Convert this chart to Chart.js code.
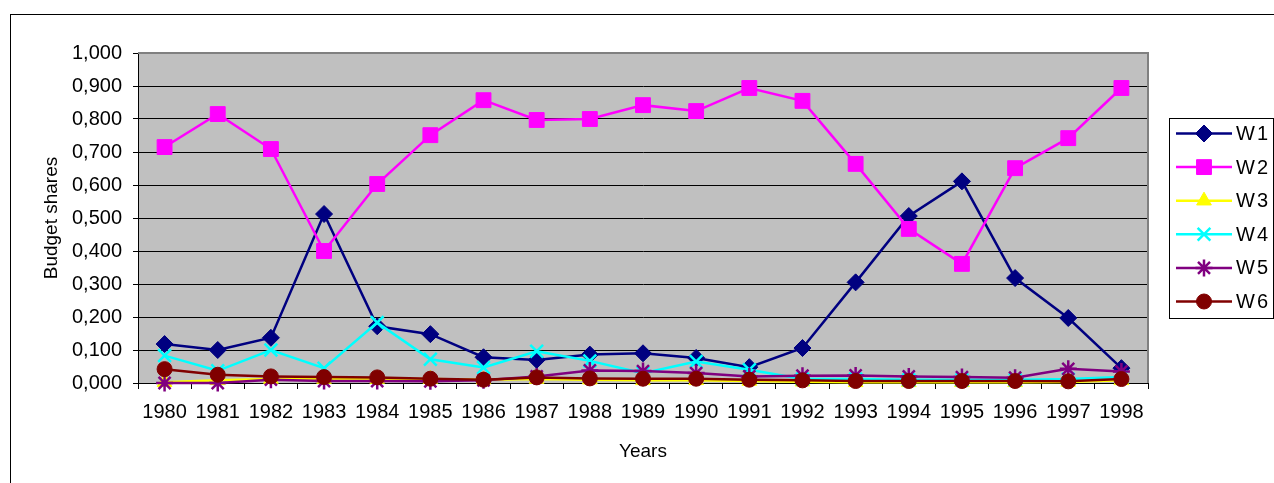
<!DOCTYPE html>
<html>
<head>
<meta charset="utf-8">
<script src="https://cdn.jsdelivr.net/npm/chart.js@4.4.0/dist/chart.umd.min.js"></script>
<style>
  html, body { margin: 0; padding: 0; background: #fff; }
  #wrap { width: 1274px; height: 483px; position: relative; }
</style>
</head>
<body>
<div id="wrap"><canvas id="sharesChart"></canvas></div>
<script>
const years = ['1980', '1981', '1982', '1983', '1984', '1985', '1986', '1987', '1988', '1989',
  '1990', '1991', '1992', '1993', '1994', '1995', '1996', '1997', '1998'];

const w1 = [0.118, 0.100, 0.137, 0.512, 0.172, 0.148, 0.078, 0.070, 0.086, 0.090,
  0.076, 0.048, 0.106, 0.305, 0.506, 0.611, 0.318, 0.197, 0.045];
const w2 = [0.715, 0.815, 0.709, 0.400, 0.603, 0.751, 0.857, 0.797, 0.800, 0.842,
  0.824, 0.894, 0.855, 0.664, 0.467, 0.361, 0.651, 0.742, 0.894];
const w3 = [0.002, 0.008, 0.012, 0.012, 0.012, 0.012, 0.010, 0.012, 0.010, 0.008,
  0.008, 0.006, 0.004, 0.002, 0.002, 0.002, 0.002, 0.003, 0.008];
const w4 = [0.083, 0.037, 0.100, 0.045, 0.183, 0.072, 0.047, 0.096, 0.067, 0.030,
  0.065, 0.040, 0.012, 0.012, 0.010, 0.010, 0.010, 0.012, 0.018];
const w5 = [0.000, 0.000, 0.010, 0.006, 0.006, 0.005, 0.008, 0.020, 0.038, 0.036,
  0.030, 0.020, 0.022, 0.023, 0.020, 0.018, 0.016, 0.043, 0.035];
const w6 = [0.042, 0.025, 0.020, 0.018, 0.017, 0.013, 0.010, 0.017, 0.014, 0.013,
  0.013, 0.010, 0.008, 0.006, 0.006, 0.006, 0.006, 0.005, 0.012];

const FONT = "'Liberation Sans', Arial, sans-serif";

// Excel-style series: line + marker
const makeSeries = (label, data, color, pointStyle, radius, filled, order) => ({
  label,
  data,
  borderColor: color,
  backgroundColor: color,
  borderWidth: 2.5,
  pointStyle,
  pointRadius: radius,
  pointBorderColor: color,
  pointBackgroundColor: filled ? color : 'transparent',
  pointBorderWidth: filled ? 1 : 2.5,
  tension: 0,
  clip: false,
  order
});

const datasets = [
  makeSeries('W1', w1, '#000080', 'rectRot', 8.5, true, 6),
  makeSeries('W2', w2, '#FF00FF', 'rect', 10.5, true, 5),
  makeSeries('W3', w3, '#FFFF00', 'triangle', 8.5, true, 4),
  makeSeries('W4', w4, '#00FFFF', 'crossRot', 9, false, 3),
  makeSeries('W5', w5, '#800080', 'star', 8.5, false, 2),
  makeSeries('W6', w6, '#800000', 'circle', 7.5, true, 1)
];

// gray plot area + outer frame
const plotArea = {
  id: 'plotArea',
  beforeDraw(chart) {
    const { ctx, chartArea: a } = chart;
    ctx.save();
    ctx.fillStyle = '#C0C0C0';
    ctx.fillRect(a.left, a.top, a.right - a.left, a.bottom - a.top);
    ctx.strokeStyle = '#000';
    ctx.lineWidth = 1;
    ctx.strokeRect(10.5, 14.5, 1300, 500);
    ctx.restore();
  },
  beforeDatasetsDraw(chart) {
    const { ctx, chartArea: a } = chart;
    ctx.save();
    ctx.strokeStyle = '#808080';
    ctx.lineWidth = 2;
    ctx.beginPath();
    ctx.moveTo(a.left, a.top);
    ctx.lineTo(a.right, a.top);
    ctx.lineTo(a.right, a.bottom);
    ctx.stroke();
    ctx.restore();
  }
};

// legend box on the right, line + marker like Excel
const sideLegend = {
  id: 'sideLegend',
  afterDraw(chart) {
    const { ctx } = chart;
    const boxX = 1169, boxY = 118, boxW = 104, boxH = 200;
    ctx.save();
    ctx.fillStyle = '#fff';
    ctx.fillRect(boxX, boxY, boxW, boxH);
    ctx.strokeStyle = '#000';
    ctx.lineWidth = 1;
    ctx.strokeRect(boxX + 0.5, boxY + 0.5, boxW, boxH);
    chart.data.datasets.forEach((ds, i) => {
      const y = 133.5 + i * 33.6;
      ctx.strokeStyle = ds.borderColor;
      ctx.lineWidth = 2.5;
      ctx.beginPath();
      ctx.moveTo(1176, y);
      ctx.lineTo(1232, y);
      ctx.stroke();
      ctx.fillStyle = ds.pointBackgroundColor;
      ctx.strokeStyle = ds.pointBorderColor;
      ctx.lineWidth = ds.pointBorderWidth;
      Chart.helpers.drawPoint(ctx, {
        pointStyle: ds.pointStyle,
        radius: ds.pointRadius,
        rotation: 0,
        borderWidth: ds.pointBorderWidth
      }, 1204, y);
      ctx.fillStyle = '#000';
      ctx.font = `20px ${FONT}`;
      ctx.letterSpacing = '2px';
      ctx.textAlign = 'left';
      ctx.textBaseline = 'middle';
      ctx.fillText(ds.label, 1236, y + 1);
    });
    ctx.restore();
  }
};

new Chart(document.getElementById('sharesChart'), {
  type: 'line',
  data: { labels: years, datasets },
  plugins: [plotArea, sideLegend],
  options: {
    responsive: true,
    maintainAspectRatio: false,
    animation: false,
    events: [],
    layout: { padding: { left: 10, top: 53, right: 126, bottom: 0 } },
    plugins: {
      legend: { display: false },
      tooltip: { enabled: false }
    },
    scales: {
      x: {
        offset: true,
        afterFit: scale => { scale.height = 100; },
        grid: {
          offset: true,
          drawOnChartArea: false,
          drawTicks: true,
          tickLength: 6,
          color: '#000'
        },
        border: { color: '#000', width: 1 },
        ticks: {
          color: '#000',
          font: { family: FONT, size: 20 },
          padding: 11,
          maxRotation: 0,
          autoSkip: false
        },
        title: {
          display: true,
          text: 'Years',
          color: '#000',
          font: { family: FONT, size: 19 },
          padding: { top: 0, bottom: 19.6 }
        }
      },
      y: {
        min: 0,
        max: 1,
        afterFit: scale => { scale.width = 128; },
        grid: {
          color: '#000',
          lineWidth: 1,
          drawTicks: true,
          tickLength: 5
        },
        border: { color: '#000', width: 1 },
        ticks: {
          stepSize: 0.1,
          color: '#000',
          font: { family: FONT, size: 20 },
          padding: 11,
          callback: v => v.toFixed(3).replace('.', ',')
        },
        title: {
          display: true,
          text: 'Budget shares',
          color: '#000',
          font: { family: FONT, size: 19 },
          padding: { top: 30.6, bottom: 0 }
        }
      }
    }
  }
});
</script>
</body>
</html>
